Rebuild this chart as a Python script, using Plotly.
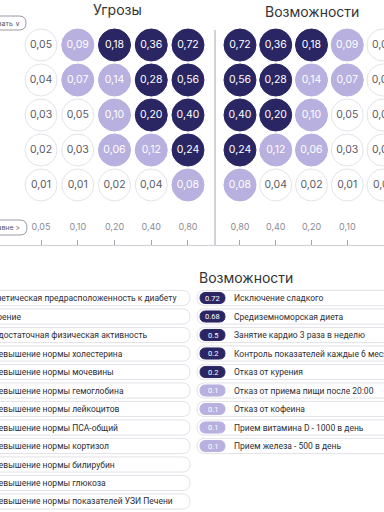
import plotly.graph_objects as go

# ---------------- data ----------------
threat_cols = ["0,05", "0,10", "0,20", "0,40", "0,80"]
opp_cols = ["0,80", "0,40", "0,20", "0,10", "0,05"]

threat_values = [
    [0.05, 0.09, 0.18, 0.36, 0.72],
    [0.04, 0.07, 0.14, 0.28, 0.56],
    [0.03, 0.05, 0.10, 0.20, 0.40],
    [0.02, 0.03, 0.06, 0.12, 0.24],
    [0.01, 0.01, 0.02, 0.04, 0.08],
]
opp_values = [
    [0.72, 0.36, 0.18, 0.09, 0.05],
    [0.56, 0.28, 0.14, 0.07, 0.04],
    [0.40, 0.20, 0.10, 0.05, 0.03],
    [0.24, 0.12, 0.06, 0.03, 0.02],
    [0.08, 0.04, 0.02, 0.01, 0.01],
]

threat_items = [
    "Генетическая предрасположенность к диабету",
    "Курение",
    "Недостаточная физическая активность",
    "Превышение нормы холестерина",
    "Превышение нормы мочевины",
    "Превышение нормы гемоглобина",
    "Превышение нормы лейкоцитов",
    "Превышение нормы ПСА-общий",
    "Превышение нормы кортизол",
    "Превышение нормы билирубин",
    "Превышение нормы глюкоза",
    "Превышение нормы показателей УЗИ Печени",
]
opp_items = [
    "Исключение сладкого",
    "Средиземноморская диета",
    "Занятие кардио 3 раза в неделю",
    "Контроль показателей каждые 6 месяцев",
    "Отказ от курения",
    "Отказ от приема пищи после 20:00",
    "Отказ от кофеина",
    "Прием витамина D - 1000 в день",
    "Прием железа - 500 в день",
]
opp_scores = [0.72, 0.68, 0.5, 0.2, 0.2, 0.1, 0.1, 0.1, 0.1]

# ---------------- style ----------------
W, H = 384, 512
DARK = "#2a2664"
LAV = "#b8b0df"
WHITE = "#ffffff"
FONT = "Inter"
LIST_FONT = "Roboto"


def px(x):
    return x / W


def py(y):
    return 1 - y / H


def level(v):
    if v < 0.06:
        return WHITE, "#e3e3ea", "#5a5a66"
    if v < 0.16:
        return LAV, LAV, "#ffffff"
    return DARK, DARK, "#ffffff"


fig = go.Figure()

n_rows = len(threat_values)
for cols, vals, xa in [(threat_cols, threat_values, "x"), (opp_cols, opp_values, "x2")]:
    xs, ys, texts, fills, lines, tcols = [], [], [], [], [], []
    for r, row in enumerate(vals):
        for c, v in enumerate(row):
            f, l, t = level(v)
            xs.append(cols[c])
            ys.append(n_rows - 1 - r)
            texts.append(f"{v:.2f}".replace(".", ","))
            fills.append(f)
            lines.append(l)
            tcols.append(t)
    fig.add_trace(go.Scatter(
        x=xs, y=ys, mode="markers+text", text=texts,
        textposition="middle center",
        marker=dict(size=32, color=fills, line=dict(color=lines, width=1)),
        textfont=dict(size=10.5, color=tcols, family=FONT),
        xaxis=xa, yaxis="y", hoverinfo="skip", showlegend=False,
    ))

# invisible anchor trace for the list axes
n_list = max(len(threat_items), len(opp_items))
fig.add_trace(go.Scatter(x=[0.5] * n_list, y=list(range(n_list)), mode="markers",
                         marker=dict(opacity=0), xaxis="x3", yaxis="y3",
                         hoverinfo="skip", showlegend=False))

shapes = []
annotations = []


def pill(x0, x1, yc, hy, rpx, yref, fill, line):
    rx = rpx / W
    yt, yb = yc - hy, yc + hy
    path = (f"M {x0+rx},{yt} L {x1-rx},{yt} Q {x1},{yt} {x1},{yc} Q {x1},{yb} {x1-rx},{yb} "
            f"L {x0+rx},{yb} Q {x0},{yb} {x0},{yc} Q {x0},{yt} {x0+rx},{yt} Z")
    return dict(type="path", path=path, xref="paper", yref=yref,
                fillcolor=fill, line=dict(color=line, width=1), layer="below")


# threat list
for i, name in enumerate(threat_items):
    shapes.append(pill(px(-40), px(190), i, 0.41, 8, "y3", "#ffffff", "#e2e2e8"))
    annotations.append(dict(x=px(-14), y=i, xref="paper", yref="y3", text=name,
                            xanchor="left", yanchor="middle", showarrow=False,
                            font=dict(size=8.5, color="#2e2e35", family=LIST_FONT)))

# opportunity list
for i, (name, s) in enumerate(zip(opp_items, opp_scores)):
    shapes.append(pill(px(197), px(420), i, 0.41, 8, "y3", "#ffffff", "#e2e2e8"))
    col = DARK if s > 0.15 else LAV
    shapes.append(pill(px(200), px(225), i, 0.30, 6, "y3", col, col))
    annotations.append(dict(x=px(212.5), y=i, xref="paper", yref="y3", text=f"{s:g}",
                            xanchor="center", yanchor="middle", showarrow=False,
                            font=dict(size=7.5, color="#ffffff", family=LIST_FONT)))
    annotations.append(dict(x=px(232), y=i, xref="paper", yref="y3", text=name,
                            xanchor="left", yanchor="middle", showarrow=False,
                            font=dict(size=8.5, color="#2e2e35", family=LIST_FONT)))

# titles
annotations.append(dict(x=px(117), y=py(9), xref="paper", yref="paper", text="Угрозы",
                        showarrow=False, xanchor="center", yanchor="middle",
                        font=dict(size=14, color="#333338", family=FONT)))
annotations.append(dict(x=px(312), y=py(11), xref="paper", yref="paper", text="Возможности",
                        showarrow=False, xanchor="center", yanchor="middle",
                        font=dict(size=14, color="#333338", family=FONT)))
annotations.append(dict(x=px(197), y=py(277), xref="paper", yref="paper", text="Возможности",
                        showarrow=False, xanchor="left", yanchor="middle",
                        font=dict(size=14, color="#333338", family=FONT)))

# small buttons on the left edge
shapes.append(dict(type="path", xref="paper", yref="paper",
                   path=(f"M {px(-20)},{py(16)} L {px(19)},{py(16)} Q {px(26)},{py(16)} {px(26)},{py(23)} "
                         f"Q {px(26)},{py(30)} {px(19)},{py(30)} L {px(-20)},{py(30)} Z"),
                   fillcolor="#ffffff", line=dict(color="#9a9aa6", width=1)))
annotations.append(dict(x=px(22), y=py(23), xref="paper", yref="paper", text="Показать ∨",
                        showarrow=False, xanchor="right", yanchor="middle",
                        font=dict(size=7, color="#55555f", family=FONT)))
shapes.append(dict(type="path", xref="paper", yref="paper",
                   path=(f"M {px(-20)},{py(220)} L {px(20)},{py(220)} Q {px(27)},{py(220)} {px(27)},{py(227.5)} "
                         f"Q {px(27)},{py(235)} {px(20)},{py(235)} L {px(-20)},{py(235)} Z"),
                   fillcolor="#ffffff", line=dict(color="#9a9aa6", width=1)))
annotations.append(dict(x=px(23), y=py(227.5), xref="paper", yref="paper", text="Равне >",
                        showarrow=False, xanchor="right", yanchor="middle",
                        font=dict(size=7, color="#55555f", family=FONT)))

# divider
shapes.append(dict(type="line", xref="paper", yref="paper", x0=px(215), x1=px(215),
                   y0=py(30), y1=py(245), line=dict(color="#a5a5ae", width=1)))

axis_common = dict(type="category", categoryorder="array", anchor="y",
                   showline=True, linecolor="#cfcfd6", linewidth=1,
                   ticks="inside", ticklen=5, tickcolor="#a5a5b0",
                   ticklabelposition="inside", ticklabelstandoff=7,
                   tickfont=dict(size=9, color="#8b8b96", family=FONT),
                   showgrid=False, zeroline=False, fixedrange=True)

fig.update_layout(
    width=W, height=H,
    margin=dict(l=0, r=0, t=0, b=0),
    paper_bgcolor="#ffffff", plot_bgcolor="#ffffff",
    xaxis=dict(domain=[0, px(215)], categoryarray=threat_cols,
               range=[-1.116, 4.735], **axis_common),
    xaxis2=dict(domain=[px(215), 1], categoryarray=opp_cols,
                range=[-0.699, 4.028], **axis_common),
    yaxis=dict(domain=[py(245), 1], range=[-1.714, 5.286], visible=False, fixedrange=True),
    xaxis3=dict(domain=[0, 1], range=[0, 1], visible=False, anchor="y3"),
    yaxis3=dict(domain=[0, py(270)], range=[11.568, -1.514], visible=False, anchor="x3"),
    shapes=shapes,
    annotations=annotations,
    showlegend=False,
)

fig.write_html("out.html", config={"displayModeBar": False},
               post_script="document.body.style.margin='0';document.body.style.overflow='hidden';")
